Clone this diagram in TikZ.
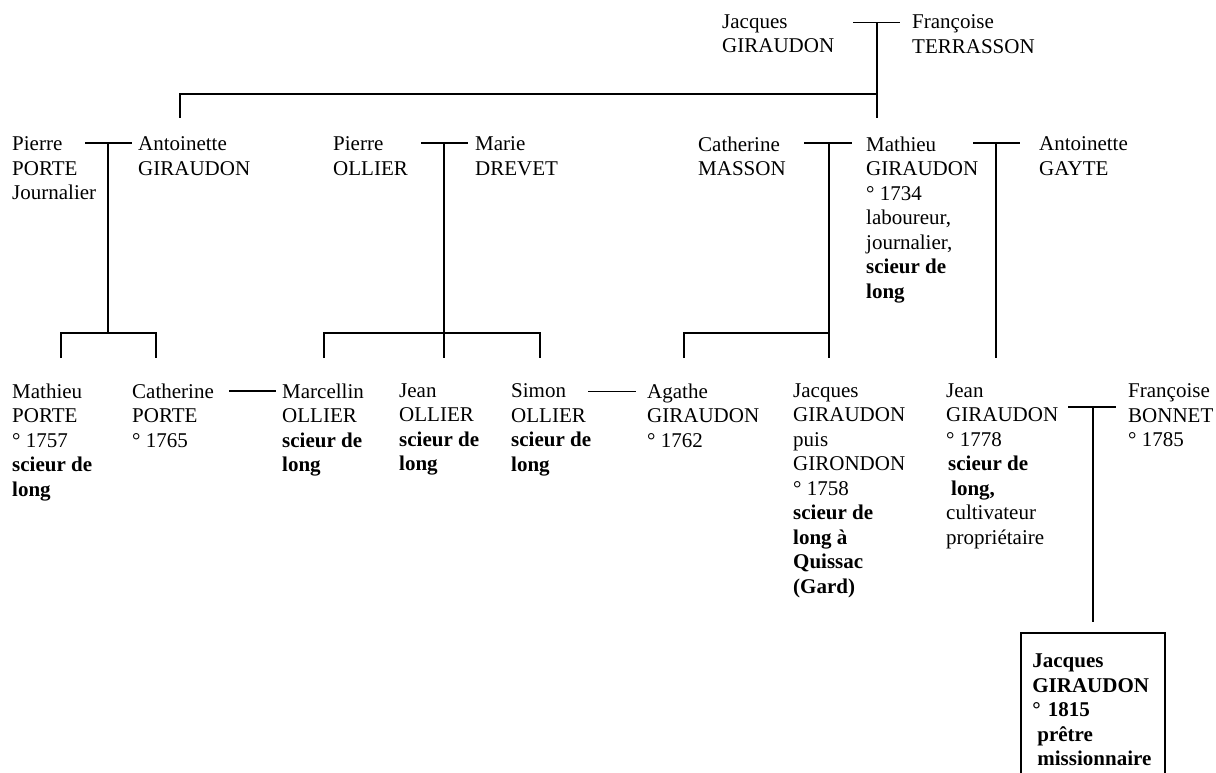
\documentclass[tikz,border=0pt]{standalone}
\usepackage{fontspec}
\setmainfont{Liberation Serif}
\begin{document}
\begin{tikzpicture}[x=1pt,y=-1pt,
  person/.style={anchor=north west, inner sep=0pt, align=left, font=\fontsize{21}{24.5}\selectfont},
  link/.style={line width=1.8pt}]
\useasboundingbox (0,0) rectangle (1216,773);
\clip (0,0) rectangle (1216,773);
% generation 1
\node[person] (jgir1) at (722,14.5) {Jacques\\GIRAUDON};
\node[person] (fterr) at (912,14.5) {Françoise\\TERRASSON};
% generation 2
\node[person] (pporte) at (12,136.5) {Pierre\\PORTE\\Journalier};
\node[person] (agir) at (138,136.5) {Antoinette\\GIRAUDON};
\node[person] (pollier) at (333,136.5) {Pierre\\OLLIER};
\node[person] (mdrevet) at (475,136.5) {Marie\\DREVET};
\node[person] (cmasson) at (698,136.5) {Catherine\\MASSON};
\node[person] (mgir) at (866,136.5) {Mathieu\\GIRAUDON\\° 1734\\laboureur,\\journalier,\\\textbf{scieur de}\\\textbf{long}};
\node[person] (agayte) at (1039,136.5) {Antoinette\\GAYTE};
% generation 3
\node[person] (mporte) at (12,383.5) {Mathieu\\PORTE\\° 1757\\\textbf{scieur de}\\\textbf{long}};
\node[person] (cporte) at (132,383.5) {Catherine\\PORTE\\° 1765};
\node[person] (marcellin) at (282,383.5) {Marcellin\\OLLIER\\\textbf{scieur de}\\\textbf{long}};
\node[person] (jollier) at (399,383.5) {Jean\\OLLIER\\\textbf{scieur de}\\\textbf{long}};
\node[person] (sollier) at (511,383.5) {Simon\\OLLIER\\\textbf{scieur de}\\\textbf{long}};
\node[person] (agathe) at (647,383.5) {Agathe\\GIRAUDON\\° 1762};
\node[person] (jgir2) at (793,383.5) {Jacques\\GIRAUDON\\puis\\GIRONDON\\° 1758\\\textbf{scieur de}\\\textbf{long à}\\\textbf{Quissac}\\\textbf{(Gard)}};
\node[person] (jean) at (946,383.5) {Jean\\GIRAUDON\\° 1778\\\hspace*{2pt}\textbf{scieur de}\\\hspace*{5pt}\textbf{long,}\\cultivateur\\propriétaire};
\node[person] (fbonnet) at (1128,383.5) {Françoise\\BONNET\\° 1785};
% generation 4
\node[person, draw, line width=1.8pt, inner xsep=11.5pt, inner ysep=21pt, text width=121pt,
      font=\fontsize{21}{24.5}\selectfont\bfseries] (box) at (1020,632)
  {Jacques\\GIRAUDON\\° 1815\\\hspace*{5pt}prêtre\\\hspace*{5pt}missionnaire};
% coordinates
\coordinate (m0l) at (853,22.5); \coordinate (m0r) at (900,22.5); \coordinate (m0) at (877,22.5);
\coordinate (s0) at (877,94.3); \coordinate (d0a) at (180,118); \coordinate (d0b) at (877,118);
\coordinate (m1l) at (85,142.7); \coordinate (m1r) at (132,142.7); \coordinate (m1) at (108,142.7);
\coordinate (s1) at (108,333); \coordinate (d1a) at (61,358); \coordinate (d1b) at (156,358);
\coordinate (m2l) at (421,142.7); \coordinate (m2r) at (468,142.7); \coordinate (m2) at (444,142.7);
\coordinate (s2) at (444,333); \coordinate (d2a) at (324,358); \coordinate (d2b) at (540,358); \coordinate (d2c) at (444,358);
\coordinate (m3l) at (804,142.7); \coordinate (m3r) at (852,142.7); \coordinate (m3) at (829,142.7);
\coordinate (s3) at (829,333); \coordinate (d3a) at (684,358); \coordinate (d3b) at (829,358);
\coordinate (m4l) at (973,142.7); \coordinate (m4r) at (1020,142.7); \coordinate (m4) at (996,142.7);
\coordinate (d4) at (996,358);
\coordinate (m5l) at (229,390.7); \coordinate (m5r) at (276,390.7);
\coordinate (m6l) at (588,391.5); \coordinate (m6r) at (636,391.5);
\coordinate (m7l) at (1068,407.3); \coordinate (m7r) at (1116,407.3); \coordinate (m7) at (1093,407.3);
\coordinate (d7) at (1093,622);
% connectors
\draw[link] (m0l) -- (m0r);
\draw[link] (m0) -- (d0b);
\draw[link] (s0) -| (d0a);
\draw[link] (m1l) -- (m1r);
\draw[link] (m1) -- (s1);
\draw[link] (d1a) |- (s1) -| (d1b);
\draw[link] (m2l) -- (m2r);
\draw[link] (m2) -- (d2c);
\draw[link] (d2a) |- (s2) -| (d2b);
\draw[link] (m3l) -- (m3r);
\draw[link] (m3) -- (d3b);
\draw[link] (d3a) |- (s3);
\draw[link] (m4l) -- (m4r);
\draw[link] (m4) -- (d4);
\draw[link] (m5l) -- (m5r);
\draw[link] (m6l) -- (m6r);
\draw[link] (m7l) -- (m7r);
\draw[link] (m7) -- (d7);
\end{tikzpicture}
\end{document}
